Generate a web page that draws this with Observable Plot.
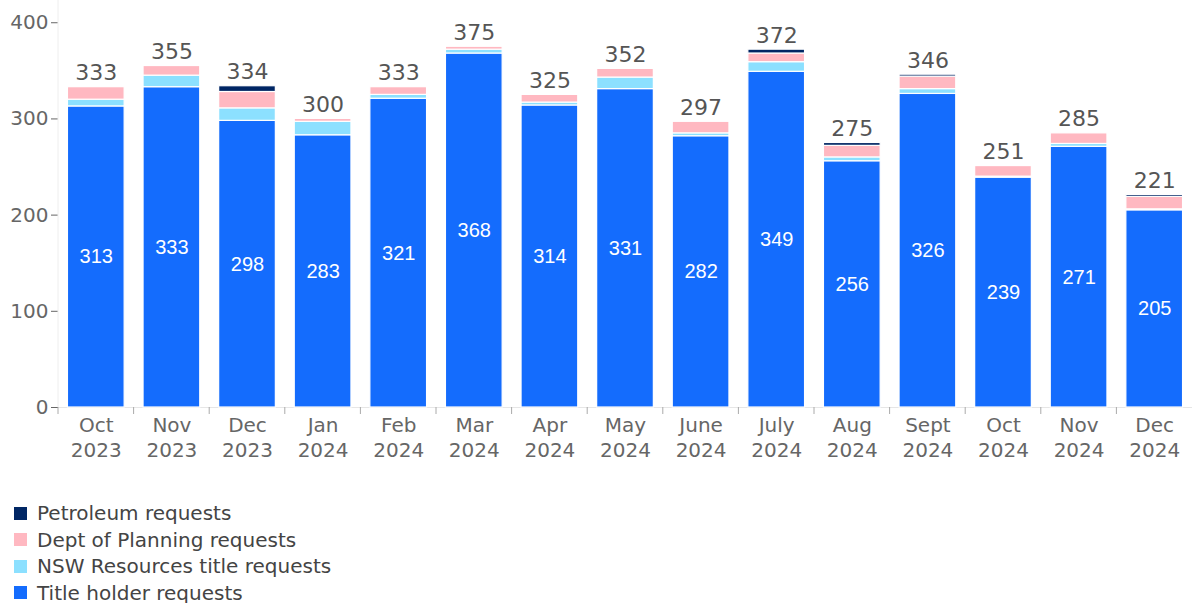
<!DOCTYPE html>
<html>
<head>
<meta charset="utf-8">
<script src="https://cdn.jsdelivr.net/npm/d3@7"></script>
<script src="https://cdn.jsdelivr.net/npm/@observablehq/plot@0.6"></script>
<style>
  html, body { margin: 0; padding: 0; background: #fff; }
  body { font-family: "DejaVu Sans", sans-serif; width: 1192px; }
  #legend { margin-top: 30px; padding-left: 14px; font-size: 20px; line-height: 26.5px; color: #444; }
  #legend .item { display: flex; align-items: center; }
  #legend .sw { width: 13px; height: 13px; margin-right: 10px; display: inline-block; }
</style>
</head>
<body>
<div id="chart"></div>
<div id="legend"></div>
<script>
const months = ["Oct\n2023","Nov\n2023","Dec\n2023","Jan\n2024","Feb\n2024","Mar\n2024","Apr\n2024","May\n2024","June\n2024","July\n2024","Aug\n2024","Sept\n2024","Oct\n2024","Nov\n2024","Dec\n2024"];
const titleHolder  = [313,333,298,283,321,368,314,331,282,349,256,326,239,271,205];
const nswResources = [7,12,13,14,4,4,3,12,3,10,4,5,1,3,1];
const deptPlanning = [13,10,17,3,8,3,8,9,12,9,12,13,11,11,13];
const petroleum    = [0,0,6,0,0,0,0,0,0,4,3,2,0,0,2];
const totals       = [333,355,334,300,333,375,325,352,297,372,275,346,251,285,221];
const seriesNames  = ["Title holder requests","NSW Resources title requests","Dept of Planning requests","Petroleum requests"];
const seriesColors = ["#146cfd","#8ce0ff","#ffb8c1","#002664"];
const yTicks = [0,100,200,300,400];

const seriesValues = [titleHolder, nswResources, deptPlanning, petroleum];
const rows = [];
months.forEach((m, i) => {
  seriesValues.forEach((vals, s) => rows.push({month: m, series: seriesNames[s], order: s, value: vals[i]}));
});
const totalRows = months.map((m, i) => ({month: m, total: totals[i], inner: titleHolder[i]}));

function boundaryTicks(index, scales, values, dimensions) {
  const x = scales.x;
  const bw = typeof x.bandwidth === "function" ? x.bandwidth() : scales.scales.x.bandwidth;
  const step = typeof x.step === "function" ? x.step() : scales.scales.x.step;
  const g = d3.create("svg:g").attr("stroke", "#aaa").attr("stroke-width", 1);
  const y0 = dimensions.height - dimensions.marginBottom;
  const pad = (step - bw) / 2;
  const edges = months.map(m => x(m) - pad);
  edges.forEach(e => g.append("line").attr("x1", e).attr("x2", e).attr("y1", y0).attr("y2", y0 + 7));
  g.append("line").attr("x1", dimensions.marginLeft).attr("x2", dimensions.marginLeft)
    .attr("y1", 0).attr("y2", y0).attr("stroke", "#eee");
  return g.node();
}

const chart = Plot.plot({
  width: 1192,
  height: 470,
  marginLeft: 58,
  marginRight: 0,
  marginTop: 3,
  marginBottom: 63,
  style: {fontFamily: "'DejaVu Sans', sans-serif", background: "#fff"},
  x: {domain: months, paddingInner: 0.25, paddingOuter: 0.125, round: false, label: null},
  y: {domain: [0, 420], label: null},
  color: {domain: seriesNames, range: seriesColors},
  marks: [
    Plot.ruleY([0], {stroke: "#e6e6e6"}),
    Plot.barY(rows, Plot.stackY({
      x: "month", y: "value", fill: "series", order: "order",
      stroke: "white", strokeWidth: 1.2
    })),
    Plot.text(totalRows, {x: "month", y: d => d.inner / 2, text: d => String(d.inner), fill: "white", fontSize: 20, fontFamily: "'Liberation Sans', Arial, sans-serif"}),
    Plot.text(totalRows, {x: "month", y: "total", text: d => String(d.total), fill: "#555", fontSize: 22, dy: -14}),
    Plot.axisY({ticks: yTicks, tickSize: 7, tickPadding: 3, fontSize: 20, color: "#666", tickFormat: d => d}),
    Plot.axisX({tickSize: 0, tickPadding: 7, fontSize: 20, color: "#666", lineHeight: 1.25}),
    boundaryTicks
  ]
});
document.getElementById("chart").appendChild(chart);

const legend = document.getElementById("legend");
[3,2,1,0].forEach(s => {
  const item = document.createElement("div");
  item.className = "item";
  const sw = document.createElement("span");
  sw.className = "sw";
  sw.style.background = seriesColors[s];
  item.appendChild(sw);
  item.appendChild(document.createTextNode(seriesNames[s]));
  legend.appendChild(item);
});
</script>
</body>
</html>
